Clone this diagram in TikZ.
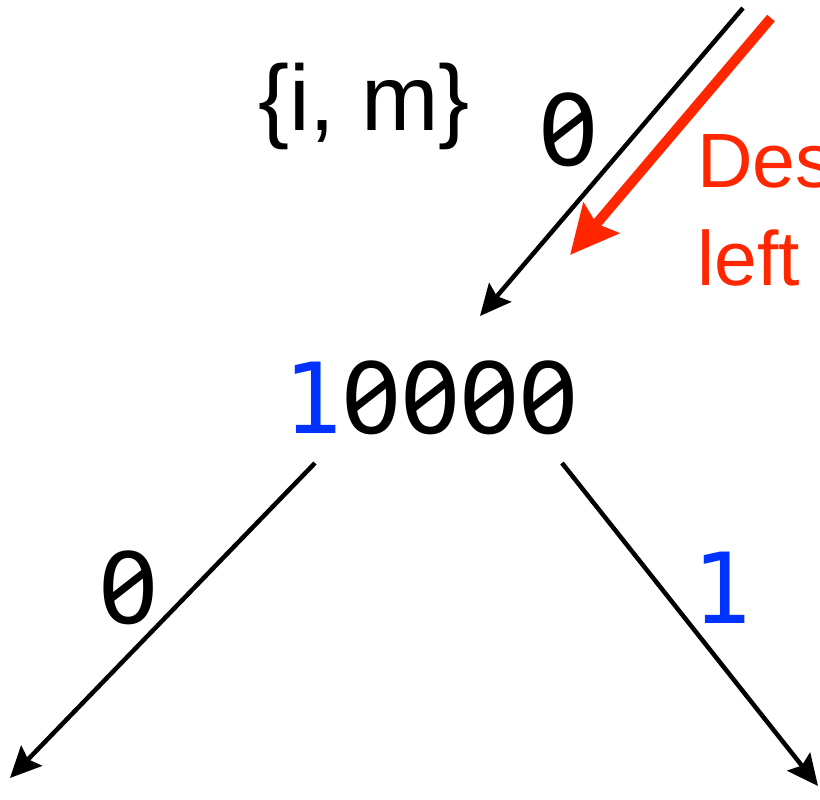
\documentclass[tikz,border=0pt]{standalone}
\usepackage{xcolor}
\usepackage{graphicx}
\usepackage{fontspec}
\setmainfont{Liberation Sans}
\newfontfamily\bitsfont{DejaVu Sans Mono}
\newfontfamily\digitfont{DejaVu Sans}
\usepackage{tikz}
\usetikzlibrary{arrows.meta, positioning, calc}
\definecolor{bitblue}{RGB}{0,51,255}
\definecolor{hintred}{RGB}{255,38,0}
% zero with a slash inside, as in the reference
\newcommand\szero{\makebox[0.602em]{\digitfont 0}\llap{\makebox[0.602em]{\raisebox{0.40em}{\smash{\makebox[0pt]{\rotatebox[origin=c]{38}{\rule[-0.038em]{0.44em}{0.076em}}}}}}}}
\newcommand\sone{\makebox[0.602em]{1}}

\begin{document}
\begin{tikzpicture}[x=1pt, y=-1pt, every node/.style={inner sep=0pt, anchor=center}]
    \useasboundingbox (0,0) rectangle (820,800);
    \tikzset{bits/.style={font=\bitsfont\fontsize{98}{110}\selectfont},
             hint/.style={font=\fontsize{77}{95}\selectfont, text=hintred, anchor=base west},
             link/.style={line width=4.5pt, -{Stealth[length=31pt, width=29pt, inset=5pt]}}}
    \node[bits] (root) at (431,398) {\textcolor{bitblue}{\sone}\szero\szero\szero\szero};
    \node[font=\fontsize{93}{110}\selectfont] (set) at (364,106) {\{i, m\}};
    \node[bits] (lbltop) at (569,130) {\szero};
    \node[bits] (lblleft) at (129,588) {\szero};
    \node[bits, text=bitblue] (lblright) at (722,588) {\sone};
    \node[hint] (hintup) at (697,187) {Des};
    \node[hint] (hintdown) at (697,285) {left};
    \coordinate (topin) at (743,8);
    \coordinate (topend) at (480,316);
    \coordinate (redin) at (771,18);
    \coordinate (redend) at (570,255);
    \coordinate (lstart) at (315,463);
    \coordinate (lend) at (10,778);
    \coordinate (rstart) at (562,463);
    \coordinate (rend) at (818,786);
    \draw[link] (topin) -- (topend);
    \draw[line width=10pt, hintred, -{Stealth[length=48pt, width=46pt, inset=7pt]}] (redin) -- (redend);
    \draw[link] (lstart) -- (lend);
    \draw[link] (rstart) -- (rend);
  \end{tikzpicture}
\end{document}
